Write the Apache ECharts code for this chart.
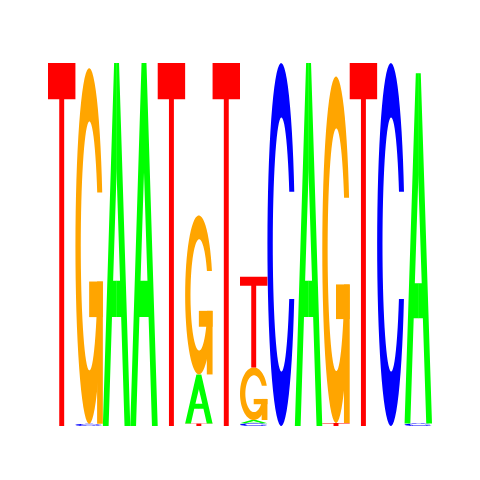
<!DOCTYPE html>
<html>
<head>
<meta charset="utf-8">
<script src="https://cdn.jsdelivr.net/npm/echarts@6/dist/echarts.min.js"></script>
<style>
  html, body { margin: 0; padding: 0; background: #ffffff; }
  #chart { width: 480px; height: 480px; }
</style>
</head>
<body>
<div id="chart"></div>
<script>
// sequence logo, 14 positions, heights in bits per letter
var positions = ['1', '2', '3', '4', '5', '6', '7', '8', '9', '10', '11', '12', '13', '14'];
var letters = ['A', 'C', 'G', 'T'];
var letterColors = ['#00ff00', '#0000ff', '#ffa500', '#ff0000'];

var heightsA = [0, 0, 2.0, 2.0, 0, 0.27, 0, 0.018, 0, 2.0, 0, 0, 0, 1.93];
var heightsC = [0, 0.012, 0, 0, 0, 0, 0, 0.015, 2.0, 0, 0, 0, 2.0, 0.014];
var heightsG = [0, 1.96, 0, 0, 0, 0.876, 0, 0.29, 0, 0, 1.91, 0, 0, 0];
var heightsT = [2.0, 0, 0, 0, 2.0, 0.014, 2.0, 0.50, 0, 0, 0.016, 2.0, 0, 0];

var heights = [heightsA, heightsC, heightsG, heightsT];

// glyph outlines in a unit box (0..1, y down)
function ring(yTop, yBot) {
  var pts = [];
  var cx = 0.5, cy = 0.5, rx = 0.5, ry = 0.5;
  var icx = 0.51, irx = 0.315, iry = 0.35;
  var t1 = Math.asin((cy - yTop) / ry);
  var t2 = 2 * Math.PI + Math.asin((cy - yBot) / ry);
  var n = 60, i, t;
  for (i = 0; i <= n; i++) {
    t = t1 + (t2 - t1) * i / n;
    pts.push([cx + rx * Math.cos(t), cy - ry * Math.sin(t)]);
  }
  var it1 = Math.asin((cy - yTop) / iry);
  var it2 = 2 * Math.PI + Math.asin((cy - yBot) / iry);
  for (i = n; i >= 0; i--) {
    t = it1 + (it2 - it1) * i / n;
    pts.push([icx + irx * Math.cos(t), cy - iry * Math.sin(t)]);
  }
  return pts;
}

function mirror(pts) {
  return pts.map(function (p) { return [1 - p[0], p[1]]; });
}

var halfA = [[0, 1], [0.41, 0], [0.505, 0], [0.505, 0.29], [0.374, 0.6], [0.505, 0.6],
  [0.505, 0.7], [0.333, 0.7], [0.21, 1]];

var glyphs = {
  A: [halfA, mirror(halfA)],
  C: [ring(0.355, 0.65)],
  G: [ring(0.35, 0.65), [[0.5, 0.6], [1, 0.6], [1, 0.7], [0.5, 0.7]],
      [[0.79, 0.6], [1, 0.6], [1, 1], [0.79, 1]]],
  T: [[[0, 0], [1, 0], [1, 0.1], [0.59, 0.1], [0.59, 1], [0.41, 1], [0.41, 0.1], [0, 0.1]]]
};

// stack letters smallest at the bottom
var logoData = [];
for (var p = 0; p < positions.length; p++) {
  var col = [];
  for (var k = 0; k < letters.length; k++) {
    if (heights[k][p] > 0) col.push({ k: k, h: heights[k][p] });
  }
  col.sort(function (a, b) { return a.h - b.h; });
  var base = 0;
  col.forEach(function (c) {
    logoData.push([p, base, base + c.h, c.k]);
    base += c.h;
  });
}

function renderLetter(params, api) {
  var x = api.value(0);
  var p0 = api.coord([x, api.value(1)]);
  var p1 = api.coord([x, api.value(2)]);
  var k = api.value(3);
  var w = api.size([1, 0])[0];
  var left = p0[0] - w / 2;
  var top = p1[1];
  var h = p0[1] - p1[1];
  var children = glyphs[letters[k]].map(function (shape) {
    return {
      type: 'polygon',
      shape: {
        points: shape.map(function (pt) { return [left + pt[0] * w, top + pt[1] * h]; })
      },
      style: { fill: letterColors[k], stroke: null }
    };
  });
  return { type: 'group', children: children };
}

var chart = echarts.init(document.getElementById('chart'), null, { renderer: 'canvas' });
var option = {
  animation: false,
  backgroundColor: '#ffffff',
  grid: {
    left: 48,
    right: 48,
    top: 63,
    bottom: 54
  },
  xAxis: {
    type: 'category',
    data: positions,
    show: false
  },
  yAxis: {
    type: 'value',
    min: 0,
    max: 2,
    show: false
  },
  series: [
    {
      type: 'custom',
      renderItem: renderLetter,
      data: logoData,
      encode: { x: 0, y: [1, 2] }
    }
  ]
};
chart.setOption(option);
</script>
</body>
</html>
